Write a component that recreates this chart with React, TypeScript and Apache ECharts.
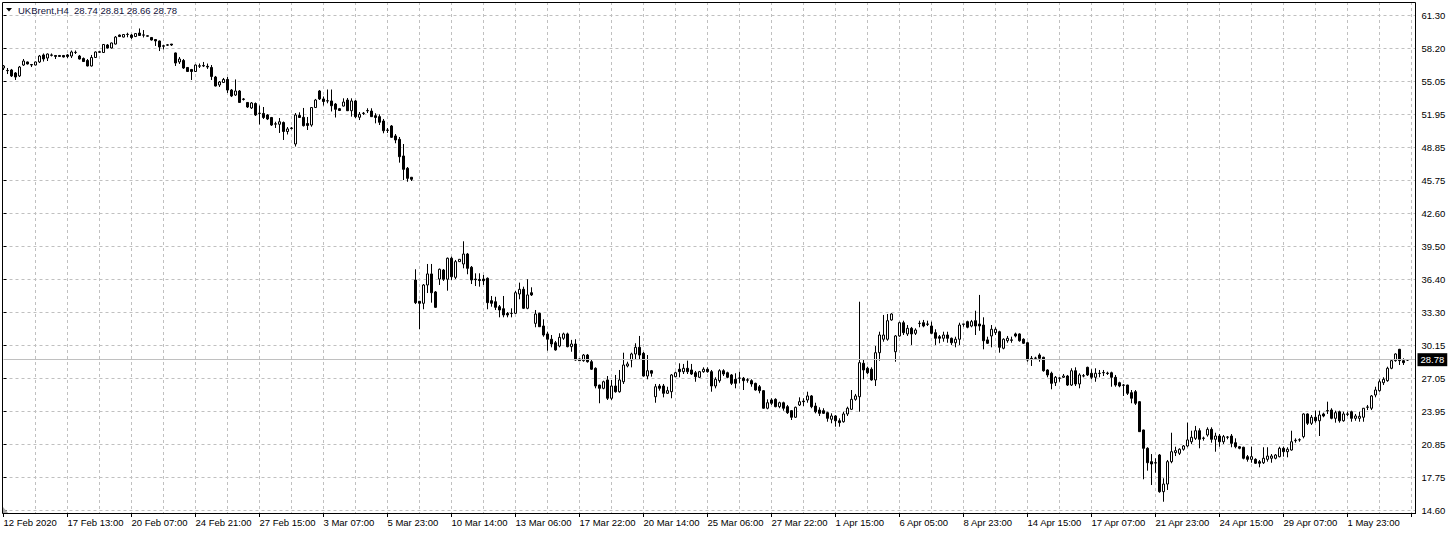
import React, { useEffect, useRef } from 'react';
import * as echarts from 'echarts';

const symbolTitle = 'UKBrent,H4';
const lastQuote = '28.74 28.81 28.66 28.78';
const lastPrice = 28.78;

// time-scale labels, one every 16 H4 bars
const timeLabels = [
  '12 Feb 2020', '17 Feb 13:00', '20 Feb 07:00', '24 Feb 21:00', '27 Feb 15:00', '3 Mar 07:00',
  '5 Mar 23:00', '10 Mar 14:00', '13 Mar 06:00', '17 Mar 22:00', '20 Mar 14:00', '25 Mar 06:00',
  '27 Mar 22:00', '1 Apr 15:00', '6 Apr 05:00', '8 Apr 23:00', '14 Apr 15:00', '17 Apr 07:00',
  '21 Apr 23:00', '24 Apr 15:00', '29 Apr 07:00', '1 May 23:00', '',
];

// price-scale labels, bottom to top
const priceLabels = [
  '14.60', '17.75', '20.85', '23.95', '27.05', '30.15', '33.30', '36.40',
  '39.50', '42.60', '45.75', '48.85', '51.95', '55.05', '58.20', '61.30',
];

const opens = [
  56.30, 56.07, 56.11, 55.83, 55.55, 56.58, 56.87, 56.63, 56.58, 56.87,
  57.53, 57.24, 57.53, 57.48, 57.48, 57.48, 57.53, 57.43, 57.76, 57.43,
  57.20, 57.01, 56.49, 57.29, 57.78, 57.76, 58.47, 58.19, 58.56, 59.41,
  59.22, 59.46, 59.41, 59.27, 59.60, 59.40, 59.34, 59.18, 58.99, 58.85,
  58.35, 58.45, 58.56, 57.72, 56.87, 57.01, 56.35, 56.16, 55.97, 56.47,
  56.49, 56.46, 56.35, 55.45, 54.70, 54.93, 55.22, 54.22, 53.75, 54.13,
  53.33, 53.05, 52.53, 52.95, 52.01, 52.01, 51.87, 51.63, 51.00, 50.99,
  51.16, 50.31, 50.59, 49.13, 51.82, 51.65, 51.06, 50.92, 52.57, 54.13,
  53.38, 53.21, 53.19, 52.90, 52.46, 52.71, 53.28, 52.27, 53.19, 51.65,
  52.01, 52.26, 52.24, 51.80, 51.71, 51.30, 50.45, 50.83, 49.89, 49.57,
  48.00, 46.84, 45.99, 36.30, 34.29, 34.10, 35.83, 36.87, 35.17, 36.39,
  37.24, 36.37, 38.35, 36.55, 38.03, 37.81, 38.75, 37.50, 36.39, 36.35,
  36.39, 36.46, 34.35, 34.25, 33.78, 33.59, 33.14, 33.14, 33.16, 34.98,
  35.42, 33.63, 35.10, 32.21, 33.16, 31.96, 31.21, 30.71, 30.38, 30.07,
  30.80, 31.21, 30.01, 30.26, 28.85, 28.69, 29.22, 28.59, 27.97, 26.39,
  26.08, 26.87, 25.14, 26.30, 25.76, 26.70, 28.19, 28.75, 29.32, 29.95,
  29.38, 27.24, 27.74, 25.29, 26.30, 26.30, 25.61, 25.76, 27.18, 27.88,
  27.65, 27.97, 27.81, 27.55, 27.12, 27.65, 27.88, 27.65, 26.30, 26.80,
  27.74, 27.55, 27.34, 26.93, 27.03, 27.03, 26.88, 26.80, 26.55, 26.23,
  25.86, 24.20, 24.98, 25.04, 24.35, 24.72, 24.35, 23.97, 23.35, 24.51,
  24.88, 24.98, 25.36, 24.41, 24.03, 23.97, 23.78, 23.16, 23.47, 23.02,
  22.93, 23.66, 24.10, 25.04, 25.29, 28.44, 27.97, 27.88, 26.87, 29.44,
  30.71, 30.71, 32.53, 29.53, 31.02, 32.27, 31.21, 31.74, 31.27, 32.20,
  32.27, 32.15, 31.96, 31.33, 30.95, 30.80, 31.11, 30.80, 30.38, 30.71,
  32.15, 32.37, 31.96, 32.46, 32.15, 32.05, 30.65, 31.02, 31.33, 31.42,
  29.86, 30.57, 30.65, 31.21, 31.21, 30.71, 30.38, 28.91, 28.91, 29.22,
  29.01, 27.81, 27.50, 26.61, 27.03, 27.12, 27.24, 26.39, 27.74, 26.49,
  27.24, 28.06, 27.50, 27.12, 27.48, 27.55, 27.52, 27.55, 27.12, 26.61,
  26.39, 26.39, 25.67, 25.76, 24.82, 22.15, 20.42, 19.16, 19.06, 19.79,
  16.33, 17.05, 19.16, 20.01, 19.95, 20.33, 20.64, 21.04, 21.36, 22.08,
  21.36, 21.68, 22.21, 21.27, 21.58, 21.04, 21.46, 21.58, 20.95, 20.57,
  20.52, 19.63, 19.38, 19.38, 19.16, 19.06, 19.38, 19.48, 19.48, 19.63,
  20.42, 20.10, 20.26, 21.14, 21.21, 21.52, 23.66, 22.78, 23.35, 23.02,
  23.66, 23.97, 24.03, 23.25, 23.87, 23.02, 23.66, 23.87, 23.25, 23.25,
  23.35, 24.29, 24.20, 25.45, 25.86, 26.61, 26.80, 27.97, 28.69, 29.76,
  28.69, 28.74,
];

const closes = [
  56.49, 56.05, 55.55, 55.45, 56.39, 56.96, 56.68, 56.58, 56.87, 57.43,
  57.15, 57.62, 57.50, 57.39, 57.39, 57.34, 57.39, 57.81, 57.78, 57.15,
  56.91, 56.49, 57.29, 57.81, 57.84, 58.52, 58.19, 58.66, 59.22, 59.27,
  59.46, 59.48, 59.18, 59.55, 59.37, 59.42, 59.30, 58.94, 58.85, 58.28,
  58.40, 58.49, 58.47, 56.77, 57.15, 56.30, 55.97, 55.97, 56.58, 56.51,
  56.54, 56.39, 55.50, 54.60, 54.98, 55.22, 54.22, 53.66, 54.13, 53.05,
  53.38, 52.62, 53.00, 51.87, 52.04, 51.63, 51.49, 50.92, 51.04, 51.23,
  50.31, 50.55, 50.64, 51.87, 51.63, 50.86, 50.88, 52.57, 53.28, 53.38,
  53.14, 53.19, 52.74, 52.40, 52.29, 53.09, 52.27, 53.19, 51.71, 51.93,
  52.04, 52.29, 51.71, 51.63, 51.18, 50.38, 50.42, 49.76, 49.51, 47.93,
  46.74, 45.89, 45.80, 34.16, 34.10, 35.83, 36.87, 35.10, 33.72, 37.31,
  36.37, 38.35, 36.61, 38.03, 38.25, 38.75, 37.40, 36.30, 36.33, 36.25,
  36.23, 34.16, 34.10, 33.72, 33.47, 33.00, 33.00, 33.16, 35.10, 35.42,
  33.63, 34.89, 34.89, 33.09, 31.89, 31.11, 30.71, 30.26, 29.70, 30.89,
  31.21, 30.01, 30.26, 28.75, 28.69, 29.22, 28.59, 27.88, 26.30, 26.08,
  26.70, 25.14, 26.30, 25.76, 26.87, 28.28, 28.38, 29.32, 29.95, 29.22,
  27.24, 27.74, 27.50, 26.23, 26.08, 25.61, 25.86, 27.34, 27.55, 27.65,
  27.97, 27.65, 27.43, 27.18, 27.65, 27.88, 27.65, 26.30, 26.93, 27.74,
  27.43, 27.12, 26.55, 26.55, 27.05, 26.80, 26.85, 26.49, 25.92, 25.86,
  24.20, 24.72, 24.67, 24.35, 24.72, 24.20, 23.78, 23.35, 24.29, 24.82,
  24.82, 25.36, 24.35, 23.87, 23.72, 23.72, 23.25, 23.47, 23.02, 22.84,
  23.66, 24.20, 25.04, 25.36, 28.50, 27.81, 27.55, 26.87, 29.44, 31.11,
  31.11, 32.46, 33.09, 31.02, 32.27, 31.33, 31.74, 31.21, 31.58, 32.21,
  31.96, 32.12, 31.27, 30.80, 30.80, 31.11, 30.80, 30.38, 30.71, 32.05,
  32.12, 31.84, 32.37, 31.96, 31.96, 30.57, 30.33, 31.65, 31.65, 29.95,
  30.71, 30.80, 30.61, 31.02, 30.57, 30.33, 28.75, 28.87, 28.94, 28.91,
  27.74, 27.34, 26.55, 27.12, 27.05, 27.24, 26.39, 27.74, 26.49, 27.34,
  27.27, 27.34, 27.12, 27.50, 27.50, 27.57, 27.48, 27.12, 26.39, 26.30,
  26.37, 25.61, 25.14, 24.67, 21.99, 20.42, 19.06, 18.94, 19.03, 16.33,
  17.05, 19.16, 20.10, 20.20, 20.33, 20.64, 21.21, 21.46, 22.08, 21.27,
  21.39, 22.21, 21.27, 21.58, 21.04, 21.52, 21.49, 20.89, 20.57, 20.42,
  19.48, 19.38, 19.63, 19.01, 19.01, 19.48, 19.69, 19.69, 19.79, 20.42,
  20.10, 20.33, 21.04, 21.18, 21.23, 23.66, 22.78, 23.35, 23.02, 23.56,
  23.47, 23.94, 23.25, 23.78, 23.02, 23.66, 23.63, 23.25, 23.47, 23.44,
  24.20, 24.32, 25.36, 25.92, 26.70, 26.93, 27.97, 28.69, 29.32, 28.69,
  28.50, 28.78,
];

const lows = [
  56.11, 55.73, 55.45, 55.17, 55.45, 56.49, 56.63, 56.39, 56.54, 56.77,
  56.91, 56.96, 57.39, 57.15, 57.34, 57.29, 57.24, 57.24, 57.62, 57.10,
  56.87, 56.45, 56.44, 57.24, 57.72, 57.72, 58.14, 58.14, 58.52, 59.22,
  59.18, 59.20, 59.04, 59.22, 59.32, 59.18, 59.27, 58.89, 58.38, 57.90,
  58.05, 58.38, 58.38, 56.49, 56.68, 56.21, 55.92, 55.17, 55.92, 56.30,
  56.39, 56.21, 55.17, 54.56, 54.51, 54.89, 53.94, 53.56, 53.66, 53.00,
  53.23, 52.53, 52.43, 51.77, 50.97, 51.49, 51.39, 50.83, 50.64, 50.17,
  49.51, 50.03, 50.50, 48.89, 51.58, 50.78, 50.45, 50.76, 52.53, 53.28,
  52.76, 52.97, 52.20, 51.63, 52.24, 52.67, 52.24, 51.71, 51.58, 51.39,
  51.87, 52.05, 51.68, 51.08, 50.92, 50.14, 50.17, 49.70, 49.20, 47.37,
  45.73, 45.57, 45.64, 34.03, 31.65, 33.54, 35.07, 34.16, 33.66, 35.83,
  36.21, 35.29, 36.30, 36.39, 38.00, 37.40, 36.84, 35.92, 35.73, 35.67,
  35.83, 33.54, 33.78, 33.47, 32.78, 32.78, 32.78, 32.78, 33.09, 34.48,
  33.56, 33.54, 34.79, 31.84, 31.87, 30.95, 29.63, 29.95, 29.63, 29.95,
  30.65, 29.95, 29.53, 28.69, 28.66, 28.59, 28.50, 27.81, 26.08, 24.67,
  25.99, 24.98, 24.98, 25.67, 25.67, 26.49, 28.06, 28.06, 28.75, 28.75,
  27.18, 26.93, 27.18, 24.72, 25.86, 25.23, 25.55, 25.14, 27.12, 27.12,
  27.43, 27.43, 27.34, 26.70, 27.05, 27.55, 27.55, 25.76, 26.08, 26.61,
  27.24, 27.03, 26.39, 26.08, 26.55, 25.92, 26.61, 26.23, 25.86, 25.61,
  24.16, 24.10, 24.51, 24.29, 24.20, 23.97, 23.66, 23.09, 23.28, 24.41,
  24.41, 24.72, 24.20, 23.72, 23.47, 23.66, 22.93, 22.78, 22.46, 22.46,
  22.84, 23.47, 24.03, 24.91, 23.87, 26.93, 27.43, 26.80, 26.30, 28.69,
  30.48, 30.57, 32.46, 28.59, 30.95, 31.11, 31.02, 30.17, 31.11, 31.84,
  31.84, 31.96, 31.21, 30.17, 30.33, 30.48, 30.38, 30.17, 29.95, 30.17,
  31.89, 31.74, 31.84, 31.11, 31.51, 29.76, 30.26, 29.95, 31.11, 29.44,
  29.76, 30.38, 30.38, 30.89, 30.48, 30.26, 28.59, 28.19, 28.75, 28.59,
  27.65, 27.12, 25.99, 26.30, 26.70, 27.05, 26.30, 26.30, 26.30, 26.08,
  27.12, 27.24, 26.93, 26.70, 27.12, 27.24, 27.34, 26.23, 26.23, 26.18,
  25.36, 25.45, 24.67, 24.51, 21.96, 17.50, 18.31, 16.96, 18.12, 16.23,
  15.38, 16.49, 19.01, 19.69, 19.79, 20.20, 20.52, 20.83, 21.21, 20.42,
  21.14, 21.52, 20.95, 20.10, 20.57, 20.83, 21.27, 20.52, 20.42, 20.33,
  19.38, 19.16, 19.06, 18.94, 18.63, 18.94, 19.16, 19.06, 19.38, 19.57,
  19.63, 19.57, 20.20, 20.95, 21.04, 21.36, 22.62, 22.62, 22.84, 21.58,
  23.35, 23.66, 23.16, 22.84, 22.84, 22.93, 23.47, 22.93, 23.02, 22.93,
  22.93, 24.03, 24.03, 25.23, 25.76, 26.39, 26.70, 27.88, 28.59, 28.28,
  28.28, 28.66,
];

const highs = [
  56.58, 56.30, 56.21, 55.92, 56.49, 57.15, 56.91, 56.68, 56.91, 57.53,
  57.67, 57.67, 57.67, 57.48, 57.53, 57.53, 57.62, 57.95, 57.95, 57.53,
  57.29, 57.15, 57.53, 57.86, 57.90, 58.56, 58.56, 58.70, 59.32, 59.46,
  59.51, 59.63, 59.51, 59.60, 60.03, 59.88, 59.37, 59.22, 58.99, 58.89,
  58.47, 58.56, 58.56, 57.76, 57.34, 57.15, 56.39, 56.21, 56.63, 56.72,
  56.87, 56.72, 56.58, 55.55, 55.07, 55.36, 55.45, 54.32, 55.22, 54.22,
  53.47, 53.09, 53.09, 53.05, 52.76, 52.62, 51.96, 51.68, 51.23, 51.58,
  51.25, 50.73, 50.73, 52.05, 52.12, 52.53, 51.68, 52.62, 53.38, 54.22,
  53.61, 54.27, 54.27, 53.00, 52.53, 53.44, 53.47, 53.44, 53.28, 52.15,
  52.15, 52.50, 52.50, 52.03, 51.93, 51.49, 50.64, 50.92, 50.07, 49.79,
  49.13, 46.96, 46.02, 37.31, 34.32, 35.92, 37.81, 37.81, 35.26, 37.38,
  37.34, 38.42, 38.50, 38.19, 38.28, 39.95, 38.85, 37.62, 36.93, 36.93,
  36.77, 36.54, 34.79, 34.72, 33.94, 34.79, 33.28, 33.63, 35.26, 36.05,
  35.67, 36.37, 35.61, 33.47, 33.21, 32.59, 31.42, 31.11, 30.55, 31.27,
  31.33, 31.33, 30.65, 30.71, 28.89, 29.32, 29.32, 28.75, 28.06, 26.42,
  26.80, 27.24, 26.87, 27.34, 27.81, 29.44, 28.59, 29.44, 30.33, 31.02,
  29.51, 29.22, 27.81, 26.49, 26.49, 26.49, 26.23, 27.43, 27.65, 28.44,
  28.38, 28.69, 28.38, 27.72, 27.72, 28.06, 28.06, 27.81, 27.12, 27.88,
  27.88, 27.65, 27.43, 27.50, 27.65, 27.15, 27.03, 26.93, 26.61, 26.39,
  25.92, 25.04, 25.14, 25.14, 24.82, 24.82, 24.51, 24.03, 24.35, 25.23,
  25.14, 25.76, 25.45, 24.72, 24.29, 24.20, 23.87, 23.72, 23.56, 23.25,
  23.87, 24.35, 25.92, 25.55, 34.25, 28.75, 28.12, 28.06, 30.07, 31.42,
  33.00, 33.09, 33.16, 31.11, 32.37, 32.46, 32.05, 31.87, 31.74, 32.46,
  32.53, 32.46, 32.37, 31.65, 31.11, 31.42, 31.42, 30.87, 30.95, 32.27,
  32.15, 32.46, 32.53, 33.40, 34.89, 32.78, 30.95, 32.05, 31.84, 31.51,
  30.80, 31.02, 30.95, 31.33, 31.27, 30.80, 30.48, 29.13, 29.06, 29.38,
  29.06, 27.88, 27.65, 27.24, 27.12, 27.43, 27.34, 27.97, 28.06, 27.50,
  27.43, 28.12, 27.88, 27.97, 27.81, 27.81, 27.65, 27.65, 27.34, 26.70,
  26.49, 26.42, 25.92, 25.92, 24.88, 22.18, 20.52, 19.88, 19.48, 19.88,
  17.59, 19.32, 21.89, 20.57, 20.42, 20.73, 22.84, 22.08, 22.53, 22.31,
  21.52, 22.40, 22.40, 21.89, 21.77, 21.68, 21.58, 21.77, 21.36, 20.64,
  20.57, 19.79, 20.57, 19.48, 19.32, 20.52, 20.52, 19.88, 19.88, 20.57,
  20.57, 20.52, 22.08, 21.36, 21.36, 23.72, 23.72, 23.56, 23.97, 23.97,
  23.78, 24.82, 24.20, 23.97, 23.97, 23.87, 23.87, 23.97, 23.66, 23.87,
  24.22, 24.51, 25.45, 26.23, 26.93, 27.12, 28.12, 28.82, 29.38, 29.80,
  28.91, 28.81,
];

const FONT = '"Liberation Sans", Arial, sans-serif';
const BARS_PER_LABEL = 16;
const SLOT_COUNT = 354;

export default function App() {
  const ref = useRef<HTMLDivElement>(null);

  useEffect(() => {
    if (!ref.current) return;
    const chart = echarts.init(ref.current, null, { renderer: 'svg' });
    const categories = Array.from({ length: SLOT_COUNT }, (_, i) => String(i));
    const data = opens.map((o, i) => [o, closes[i], lows[i], highs[i]]);

    chart.setOption({
      animation: false,
      backgroundColor: '#ffffff',
      grid: [
        { left: 3.5, right: 40.5, top: 2, bottom: 20, outerBoundsMode: 'none' },
        { left: 3.5, right: 40.5, top: 15, bottom: 23, outerBoundsMode: 'none' },
      ],
      xAxis: [
        {
          type: 'category',
          gridIndex: 0,
          data: categories,
          boundaryGap: false,
          axisLine: { show: true, lineStyle: { color: '#000', width: 1 } },
          axisTick: { show: true, interval: BARS_PER_LABEL - 1, length: 4, lineStyle: { color: '#000' } },
          axisLabel: {
            interval: BARS_PER_LABEL - 1,
            align: 'left',
            margin: 4,
            color: '#000',
            fontSize: 9.5,
            fontFamily: FONT,
            formatter: (_v: string, i: number) => timeLabels[Math.round(i / BARS_PER_LABEL)] ?? '',
          },
          splitLine: {
            show: true,
            interval: (i: number) => i > 0 && i % 8 === 0,
            lineStyle: { color: '#c0c0c0', type: [3, 3], width: 1 },
          },
        },
        { type: 'value', gridIndex: 1, show: false, min: 0, max: 1 },
      ],
      yAxis: [
        { type: 'value', gridIndex: 0, show: false, min: 14.317, max: 62.5265 },
        {
          type: 'value',
          gridIndex: 1,
          min: 0,
          max: priceLabels.length - 1,
          interval: 1,
          position: 'right',
          axisLine: { show: false },
          axisTick: { show: true, length: 3, lineStyle: { color: '#000' } },
          axisLabel: {
            margin: 6,
            color: '#000',
            fontSize: 9.5,
            fontFamily: FONT,
            formatter: (v: number) => priceLabels[Math.round(v)] ?? '',
          },
          splitLine: { show: true, lineStyle: { color: '#c0c0c0', type: [3, 3], width: 1 } },
        },
      ],
      series: [
        {
          type: 'candlestick',
          xAxisIndex: 0,
          yAxisIndex: 0,
          data,
          barWidth: 2,
          itemStyle: {
            color: '#ffffff',
            color0: '#000000',
            borderColor: '#000000',
            borderColor0: '#000000',
            borderWidth: 1,
          },
          emphasis: { disabled: true },
          markLine: {
            silent: true,
            symbol: ['none', 'none'],
            lineStyle: { color: '#c0c0c0', type: 'solid', width: 1 },
            label: {
              show: true,
              position: 'end',
              distance: 2,
              formatter: lastPrice.toFixed(2),
              color: '#ffffff',
              backgroundColor: '#000000',
              padding: [2, 3, 1, 3],
              fontSize: 9.5,
              fontFamily: FONT,
            },
            emphasis: { disabled: true },
            data: [{ yAxis: lastPrice }],
          },
        },
      ],
      graphic: [
        {
          type: 'rect',
          silent: true,
          z: 100,
          shape: { x: 2.5, y: 2.5, width: 1413, height: 511 },
          style: { fill: 'none', stroke: '#000', lineWidth: 1 },
        },
        {
          type: 'polygon',
          silent: true,
          z: 100,
          shape: { points: [[6, 8], [12, 8], [9, 11.5]] },
          style: { fill: '#000' },
        },
        {
          type: 'text',
          silent: true,
          z: 100,
          x: 18,
          y: 10,
          style: { text: symbolTitle, fill: '#14143c', font: `9.5px ${FONT}`, verticalAlign: 'middle' },
        },
        {
          type: 'text',
          silent: true,
          z: 100,
          x: 74,
          y: 10,
          style: { text: lastQuote, fill: '#14143c', font: `9.5px ${FONT}`, verticalAlign: 'middle' },
        },
        {
          type: 'polygon',
          silent: true,
          z: 100,
          shape: { points: [[3, 507], [3, 513], [8, 513]] },
          style: { fill: '#a8a8a8' },
        },
      ],
    });

    return () => chart.dispose();
  }, []);

  return (
    <div
      ref={ref}
      style={{ position: 'fixed', left: 0, top: 0, width: 1456, height: 533, background: '#ffffff' }}
    />
  );
}
